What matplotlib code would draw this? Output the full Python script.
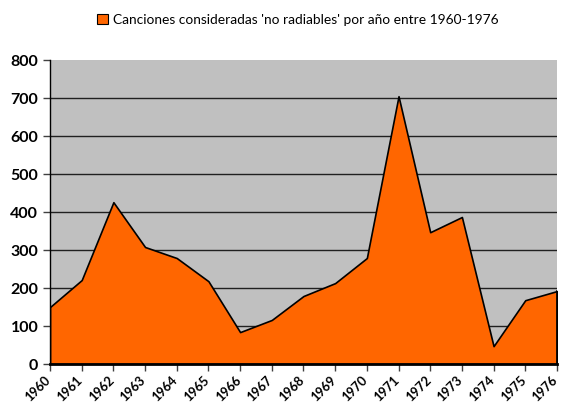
import numpy as np
import matplotlib.pyplot as plt
import matplotlib.transforms as mtransforms
from matplotlib.patches import Patch

years = list(range(1960, 1977))
canciones = [150, 221, 426, 308, 279, 218, 84, 116, 179, 213, 279, 705, 347, 387, 47, 168, 192]
yticks = [0, 100, 200, 300, 400, 500, 600, 700, 800]
titulo = "Canciones consideradas 'no radiables' por año entre 1960-1976"

plt.rcParams['font.family'] = ['Lato', 'DejaVu Sans']

fig = plt.figure(figsize=(5.62, 4.09), dpi=100)
ax = fig.add_axes([0.089, 0.11, 0.902, 0.743])
ax.set_facecolor('#C0C0C0')

ax.set_xlim(years[0], years[-1])
ax.set_ylim(0, 800)
for t in yticks[1:-1]:
    ax.axhline(t, color='#202020', lw=1.0, zorder=1)
ax.fill_between(years, canciones, 0, color='#FF6600', edgecolor='black', lw=1.2, zorder=2)
ax.plot([years[-1], years[-1]], [0, canciones[-1]], color='black', lw=1.2, zorder=3)

ax.set_yticks(yticks)
ax.set_yticklabels([str(t) for t in yticks], fontsize=11.5, fontweight='bold')
ax.set_xticks(years)
ax.set_xticklabels([str(y) for y in years], rotation=45, ha='right', rotation_mode='anchor',
                   fontsize=9.3, fontweight='bold')
ax.tick_params(axis='both', direction='out', length=5, width=1, color='#404040')
ax.tick_params(axis='x', pad=2)

# nudge the rotated year labels a little left so the last one stays inside
shift = mtransforms.ScaledTranslation(-4 / 72, 0, fig.dpi_scale_trans)
for lab in ax.get_xticklabels():
    lab.set_transform(lab.get_transform() + shift)

for s in ['top', 'right']:
    ax.spines[s].set_visible(False)
ax.spines['left'].set_color('black')
ax.spines['left'].set_linewidth(1)
ax.spines['bottom'].set_color('black')
ax.spines['bottom'].set_linewidth(2)
ax.spines['bottom'].set_zorder(4)

handle = Patch(facecolor='#FF6600', edgecolor='black', lw=0.8)
fig.legend([handle], [titulo], loc='center', bbox_to_anchor=(0.53, 0.952), frameon=False,
           fontsize=9.9, handlelength=0.8, handleheight=0.8, handletextpad=0.3)

fig.savefig('out.png', dpi=100)
